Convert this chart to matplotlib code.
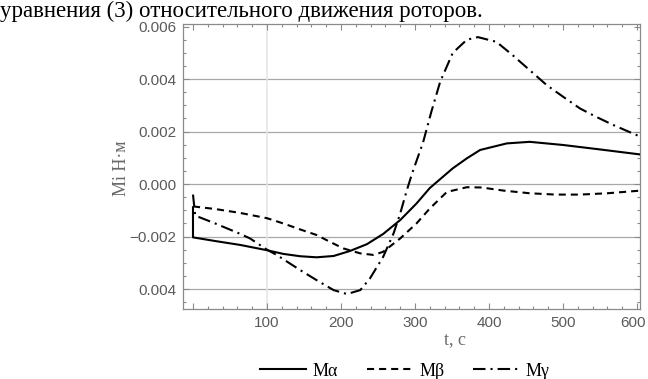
import matplotlib
matplotlib.use('Agg')
import matplotlib.pyplot as plt
import matplotlib.transforms as mtransforms
import numpy as np

# readings from the reference picture
t_alpha = [0, 0, 30, 64, 100, 122, 145, 167, 190, 212, 235, 257, 280, 302, 320,
           351, 370, 388, 424, 455, 500, 550, 604]
m_alpha = [-0.00088, -0.00203, -0.00217, -0.00232, -0.00252, -0.00266, -0.00275,
           -0.00279, -0.00274, -0.00255, -0.00229, -0.0019, -0.00137, -0.00074,
           -0.00015, 0.0006, 0.00098, 0.0013, 0.00155, 0.00161, 0.00149, 0.00132,
           0.00113]

t_beta = [0, 30, 64, 100, 122, 145, 167, 185, 203, 226, 244, 257, 280, 302, 320,
          343, 370, 390, 420, 455, 490, 523, 560, 604]
m_beta = [-0.00085, -0.00095, -0.0011, -0.0013, -0.0015, -0.00173, -0.00194,
          -0.0022, -0.00245, -0.00264, -0.0027, -0.00258, -0.00207, -0.0015,
          -0.00093, -0.0003, -0.00012, -0.00013, -0.00025, -0.00035, -0.0004,
          -0.0004, -0.00035, -0.00025]

t_gamma = [0, 3, 30, 64, 77, 100, 113, 145, 167, 190, 208, 226, 239, 257, 271,
           280, 289, 296, 311, 322, 334, 351, 370, 385, 410, 432, 455, 478, 500,
           523, 545, 568, 604]
m_gamma = [-0.0004, -0.0012, -0.0015, -0.0019, -0.00207, -0.0025, -0.0027,
           -0.00328, -0.00366, -0.00404, -0.00419, -0.00404, -0.0036, -0.00277,
           -0.00188, -0.00112, -0.00023, 0.0004, 0.0016, 0.00275, 0.0039, 0.005,
           0.0055, 0.0056, 0.00542, 0.00491, 0.00434, 0.00377, 0.00333, 0.00288,
           0.00256, 0.00225, 0.00181]

labels = ['M\u03b1', 'M\u03b2', 'M\u03b3']
y_ticks = [-0.004, -0.002, 0.0, 0.002, 0.004, 0.006]
y_ticklabels = ['0.004', '\u22120.002', '0.000', '0.002', '0.004', '0.006']
x_ticks = [100, 200, 300, 400, 500, 600]

sans = ['Liberation Sans', 'DejaVu Sans']
serif = ['Liberation Serif', 'DejaVu Serif']
gray = '#8a8a8a'

fig = plt.figure(figsize=(6.48, 3.79), dpi=100)
ax = fig.add_axes([183/648, 1 - 309/379, (640 - 183)/648, (309 - 24)/379])

for y in y_ticks[:-1]:
    ax.axhline(y, color='#a8a8a8', lw=0.9, zorder=1)
ax.axvline(100, color='#e6e6e6', lw=1.2, zorder=1)

lw = 1.5
ax.plot(t_alpha, m_alpha, color='black', lw=lw, label=labels[0], zorder=3)
l2, = ax.plot(t_beta, m_beta, color='black', lw=lw, label=labels[1], zorder=3)
l2.set_dashes((3.4, 2.4))
l3, = ax.plot(t_gamma, m_gamma, color='black', lw=lw, label=labels[2], zorder=3)
l3.set_dashes((6, 2.4, 1, 2.4))

ax.set_xlim(-13.5, 604)
ax.set_ylim(-0.00476, 0.0061)

ax.set_xticks([0] + x_ticks)
ax.set_xticklabels([''] + [str(v) for v in x_ticks])
ax.set_xticks(np.arange(0, 601, 20), minor=True)
ax.set_yticks(y_ticks)
ax.set_yticklabels(y_ticklabels)
ax.set_yticks(np.arange(-0.0045, 0.0061, 0.0005), minor=True)

ax.tick_params(which='both', direction='in', top=True, right=True, color=gray,
               labelcolor='#5a5a5a', labelsize=11, width=0.8)
ax.tick_params(which='major', length=4.5, pad=5)
ax.tick_params(which='minor', length=2.5)
for lab in ax.get_xticklabels() + ax.get_yticklabels():
    lab.set_family(sans)
# keep the last x label inside the picture
last = ax.get_xticklabels()[-1]
last.set_transform(last.get_transform() +
                   mtransforms.ScaledTranslation(-4/100, 0, fig.dpi_scale_trans))
for s in ax.spines.values():
    s.set_color(gray)
    s.set_linewidth(0.9)

fig.text(121/648, 1 - 168/379, 'Mi \u041d\u00b7\u043c', rotation=90, ha='center',
         va='center', fontsize=13, color='#6a6a6a', family=serif)
fig.text(455/648, 1 - 340/379, 't, c', ha='center', va='center', fontsize=13,
         color='#6a6a6a', family=serif)

fig.text(0.0, 1 - 17.5/379, 'уравнения (3) относительного движения роторов.',
         ha='left', va='baseline', fontsize=16.5, color='black', family=serif)

leg = fig.legend(loc='center', bbox_to_anchor=(405/648, 1 - 371/379), ncol=3,
                 frameon=False, handlelength=2.5, columnspacing=1.6,
                 handletextpad=0.4, prop={'family': serif, 'size': 13})

fig.savefig('out.png', dpi=100)
